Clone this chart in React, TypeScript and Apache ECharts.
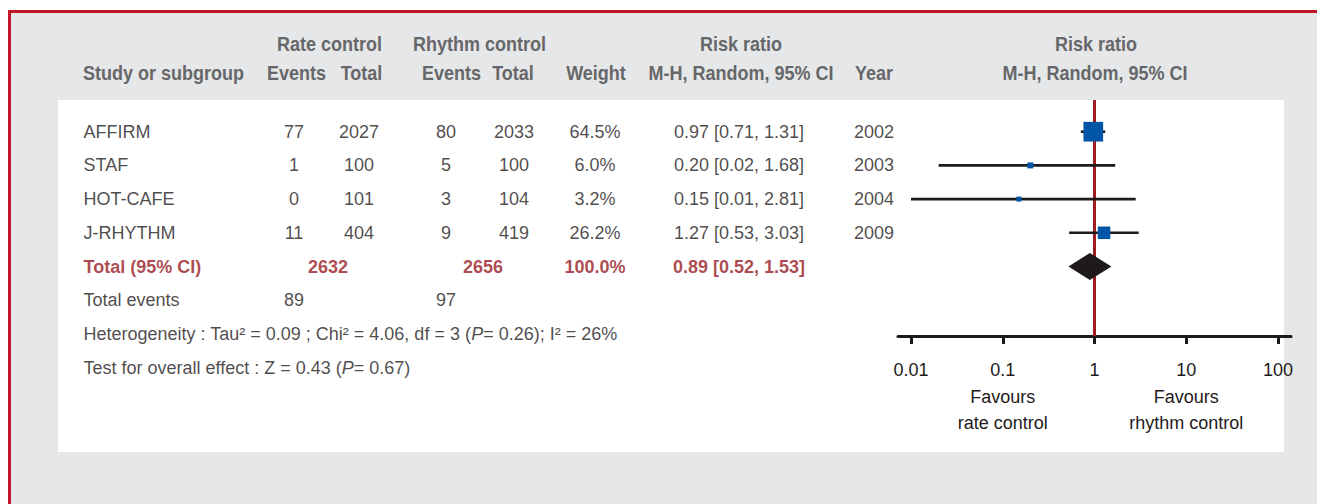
import React, { useEffect, useRef } from 'react';
import * as echarts from 'echarts';

// ---------------- DATA ----------------
const studies = ['AFFIRM', 'STAF', 'HOT-CAFE', 'J-RHYTHM'];
const rateEvents = [77, 1, 0, 11];
const rateTotals = [2027, 100, 101, 404];
const rhythmEvents = [80, 5, 3, 9];
const rhythmTotals = [2033, 100, 104, 419];
const weights = [64.5, 6.0, 3.2, 26.2];
const riskRatios = [0.97, 0.2, 0.15, 1.27];
const ciLower = [0.71, 0.02, 0.01, 0.53];
const ciUpper = [1.31, 1.68, 2.81, 3.03];
const years = [2002, 2003, 2004, 2009];

const totalLabel = 'Total (95% CI)';
const totalParticipants = [2632, 2656];
const totalWeight = 100.0;
const pooledRR = [0.89, 0.52, 1.53]; // estimate, lower, upper
const totalEventsLabel = 'Total events';
const totalEvents = [89, 97];
const heterogeneity = { tau2: '0.09', chi2: '4.06', df: '3', p: '0.26', i2: '26%' };
const overallEffect = { z: '0.43', p: '0.67' };

const tickValues = [0.01, 0.1, 1, 10, 100];
const tickLabels = ['0.01', '0.1', '1', '10', '100'];
const favoursLeft = ['Favours', 'rate control'];
const favoursRight = ['Favours', 'rhythm control'];

const headerLine1 = ['Rate control', 'Rhythm control', 'Risk ratio', 'Risk ratio'];
const headerLine2 = ['Study or subgroup', 'Events', 'Total', 'Events', 'Total', 'Weight', 'M-H, Random, 95% CI', 'Year', 'M-H, Random, 95% CI'];

// ---------------- LAYOUT / STYLE ----------------
const W = 1317;
const H = 504;
const FONT = '"Liberation Sans", Arial, Helvetica, sans-serif';
const DARK = '#1e1a1b';
const GREY_TXT = '#66676a';
const RED_TXT = '#971a1f';
const BLUE = '#0055a6';
const BG = '#e6e7e8';
const BORDER_RED = '#c1152a';
const LINE_RED = '#9d1c22';

const ROW0 = 131.7;
const STEP = 33.7;
const PANEL_TOP = 100;
const AXIS_Y = 336;
const Y_MIN = -(ROW0 - PANEL_TOP) / STEP;
const FOREST_Y_MAX = (AXIS_Y - ROW0) / STEP;
const TABLE_Y_MAX = 7.5;

const DECADE = 91.75;
const FOREST_LEFT = 898;
const FOREST_RIGHT = 1291;
const LOG_MIN = Math.pow(10, -2 - (911 - FOREST_LEFT) / DECADE);
const LOG_MAX = Math.pow(10, 2 + (FOREST_RIGHT - 1278) / DECADE);

const COL = {
  study: 83,
  rateEv: 294,
  rateTot: 359,
  rateSum: 328,
  rhyEv: 446,
  rhyTot: 514,
  rhySum: 483,
  weight: 595,
  rr: 739,
  year: 874,
};

const H1_X = [329.5, 479.5, 741, 1096];
const H2_X = [83, 296.5, 361.5, 451.5, 513, 596, 741, 874, 1095];
const H1_Y = 44;
const H2_Y = 73.5;

const fmt2 = (v: number) => v.toFixed(2);
const rrText = (e: number, l: number, u: number) => `${fmt2(e)} [${fmt2(l)}, ${fmt2(u)}]`;

type Cell = { row: number; text: string };

function textSeries(
  id: string,
  x: number,
  cells: Cell[],
  align: 'left' | 'center',
  opts: { bold?: boolean; color?: string; rich?: any } = {}
): any {
  return {
    id,
    type: 'scatter',
    xAxisIndex: 1,
    yAxisIndex: 1,
    symbol: 'circle',
    symbolSize: 1,
    silent: true,
    clip: false,
    itemStyle: { color: 'rgba(0,0,0,0)' },
    data: cells.map((c) => ({ name: c.text, value: [x, c.row] })),
    label: {
      show: true,
      position: align === 'left' ? 'right' : 'inside',
      distance: 0,
      formatter: '{b}',
      color: opts.color || DARK,
      fontSize: 18,
      fontFamily: FONT,
      fontWeight: opts.bold ? 'bold' : 'normal',
      rich: opts.rich,
    },
    z: 5,
  };
}

function buildOption(): any {
  const TOTAL_ROW = studies.length;
  const EVENTS_ROW = TOTAL_ROW + 1;
  const HET_ROW = TOTAL_ROW + 2;
  const TEST_ROW = TOTAL_ROW + 3;

  const richStyles = {
    n: { fontSize: 18, fontFamily: FONT, color: DARK },
    i: { fontSize: 18, fontFamily: FONT, color: DARK, fontStyle: 'italic' },
  };
  const hetText = `{n|Heterogeneity : Tau² = ${heterogeneity.tau2} ; Chi² = ${heterogeneity.chi2}, df = ${heterogeneity.df} (}{i|P}{n|= ${heterogeneity.p}); I² = ${heterogeneity.i2}}`;
  const testText = `{n|Test for overall effect : Z = ${overallEffect.z} (}{i|P}{n|= ${overallEffect.p})}`;

  const tableSeries = [
    textSeries('study', COL.study, [
      ...studies.map((s, i) => ({ row: i, text: s })),
      { row: EVENTS_ROW, text: totalEventsLabel },
    ], 'left'),
    textSeries('studyTotal', COL.study, [{ row: TOTAL_ROW, text: totalLabel }], 'left', { bold: true, color: RED_TXT }),
    textSeries('rateEv', COL.rateEv, [
      ...rateEvents.map((v, i) => ({ row: i, text: String(v) })),
      { row: EVENTS_ROW, text: String(totalEvents[0]) },
    ], 'center'),
    textSeries('rateTot', COL.rateTot, rateTotals.map((v, i) => ({ row: i, text: String(v) })), 'center'),
    textSeries('rateSum', COL.rateSum, [{ row: TOTAL_ROW, text: String(totalParticipants[0]) }], 'center', { bold: true, color: RED_TXT }),
    textSeries('rhyEv', COL.rhyEv, [
      ...rhythmEvents.map((v, i) => ({ row: i, text: String(v) })),
      { row: EVENTS_ROW, text: String(totalEvents[1]) },
    ], 'center'),
    textSeries('rhyTot', COL.rhyTot, rhythmTotals.map((v, i) => ({ row: i, text: String(v) })), 'center'),
    textSeries('rhySum', COL.rhySum, [{ row: TOTAL_ROW, text: String(totalParticipants[1]) }], 'center', { bold: true, color: RED_TXT }),
    textSeries('weight', COL.weight, weights.map((v, i) => ({ row: i, text: v.toFixed(1) + '%' })), 'center'),
    textSeries('weightSum', COL.weight, [{ row: TOTAL_ROW, text: totalWeight.toFixed(1) + '%' }], 'center', { bold: true, color: RED_TXT }),
    textSeries('rr', COL.rr, riskRatios.map((v, i) => ({ row: i, text: rrText(v, ciLower[i], ciUpper[i]) })), 'center'),
    textSeries('rrSum', COL.rr, [{ row: TOTAL_ROW, text: rrText(pooledRR[0], pooledRR[1], pooledRR[2]) }], 'center', { bold: true, color: RED_TXT }),
    textSeries('year', COL.year, years.map((v, i) => ({ row: i, text: String(v) })), 'center'),
    textSeries('het', COL.study, [{ row: HET_ROW, text: hetText }], 'left', { rich: richStyles }),
    textSeries('test', COL.study, [{ row: TEST_ROW, text: testText }], 'left', { rich: richStyles }),
  ];

  const forestSeries = [
    {
      id: 'ci',
      type: 'custom',
      xAxisIndex: 0,
      yAxisIndex: 0,
      silent: true,
      clip: false,
      encode: { x: [0, 1], y: 2 },
      data: studies.map((_, i) => [ciLower[i], ciUpper[i], i]),
      renderItem: (params: any, api: any) => {
        const p1 = api.coord([api.value(0), api.value(2)]);
        const p2 = api.coord([api.value(1), api.value(2)]);
        return {
          type: 'line',
          shape: { x1: p1[0], y1: p1[1], x2: p2[0], y2: p2[1] },
          style: { stroke: DARK, lineWidth: 2.6 },
        };
      },
      z: 3,
    },
    {
      id: 'squares',
      type: 'scatter',
      xAxisIndex: 0,
      yAxisIndex: 0,
      silent: true,
      symbol: 'rect',
      symbolSize: (val: number[]) => Math.max(5, 2.45 * Math.sqrt(val[2])),
      itemStyle: { color: BLUE, opacity: 1 },
      data: studies.map((_, i) => [riskRatios[i], i, weights[i]]),
      z: 4,
      markLine: {
        silent: true,
        symbol: ['none', 'none'],
        label: { show: false },
        lineStyle: { color: LINE_RED, width: 3, type: 'solid' },
        data: [{ xAxis: 1 }],
        z: 2,
      },
    },
    {
      id: 'diamond',
      type: 'custom',
      xAxisIndex: 0,
      yAxisIndex: 0,
      silent: true,
      clip: false,
      encode: { x: [0, 1, 2], y: 3 },
      data: [[pooledRR[0], pooledRR[1], pooledRR[2], TOTAL_ROW]],
      renderItem: (params: any, api: any) => {
        const row = api.value(3);
        const c = api.coord([api.value(0), row]);
        const l = api.coord([api.value(1), row]);
        const r = api.coord([api.value(2), row]);
        const half = 13.5;
        return {
          type: 'polygon',
          shape: { points: [[l[0], c[1]], [c[0], c[1] - half], [r[0], c[1]], [c[0], c[1] + half]] },
          style: { fill: DARK },
        };
      },
      z: 5,
    },
  ];

  const labelFor = (v: number) => {
    const idx = tickValues.findIndex((t) => Math.abs(Math.log10(t) - Math.log10(v)) < 1e-6);
    if (idx < 0) return '';
    let s = tickLabels[idx];
    if (tickValues[idx] === 0.1) s += '\n' + favoursLeft.join('\n');
    if (tickValues[idx] === 10) s += '\n' + favoursRight.join('\n');
    return s;
  };

  const graphic: any[] = [
    { type: 'rect', z: -10, silent: true, shape: { x: 11, y: 13, width: W - 11, height: H - 13 }, style: { fill: BG } },
    { type: 'rect', z: -9, silent: true, shape: { x: 8, y: 10, width: W - 8, height: 3 }, style: { fill: BORDER_RED } },
    { type: 'rect', z: -9, silent: true, shape: { x: 8, y: 10, width: 3, height: H - 10 }, style: { fill: BORDER_RED } },
    { type: 'rect', z: -8, silent: true, shape: { x: 58, y: PANEL_TOP, width: 1226, height: 352 }, style: { fill: '#ffffff' } },
  ];
  headerLine1.forEach((t, i) => {
    graphic.push({
      type: 'text', z: 10, silent: true, x: H1_X[i], y: H1_Y, scaleX: 0.9,
      style: { text: t, fill: GREY_TXT, font: `bold 20px ${FONT}`, align: 'center', verticalAlign: 'middle' },
    });
  });
  headerLine2.forEach((t, i) => {
    graphic.push({
      type: 'text', z: 10, silent: true, x: H2_X[i], y: H2_Y, scaleX: 0.9,
      style: { text: t, fill: GREY_TXT, font: `bold 20px ${FONT}`, align: i === 0 ? 'left' : 'center', verticalAlign: 'middle' },
    });
  });

  return {
    animation: false,
    backgroundColor: '#ffffff',
    textStyle: { fontFamily: FONT },
    grid: [
      { left: FOREST_LEFT, width: FOREST_RIGHT - FOREST_LEFT, top: PANEL_TOP, height: AXIS_Y - PANEL_TOP, containLabel: false },
      { left: 0, width: W, top: PANEL_TOP, height: (TABLE_Y_MAX - Y_MIN) * STEP, containLabel: false },
    ],
    xAxis: [
      {
        type: 'log',
        logBase: 10,
        gridIndex: 0,
        min: LOG_MIN,
        max: LOG_MAX,
        position: 'bottom',
        axisLine: { show: true, onZero: false, lineStyle: { color: DARK, width: 3 } },
        axisTick: { show: true, inside: false, length: 8, lineStyle: { color: DARK, width: 3 }, customValues: tickValues },
        axisLabel: {
          show: true,
          customValues: tickValues,
          margin: 21,
          color: DARK,
          fontSize: 18,
          fontFamily: FONT,
          lineHeight: 26.5,
          formatter: (v: number) => labelFor(v),
        },
        splitLine: { show: false },
      },
      { type: 'value', gridIndex: 1, min: 0, max: W, show: false },
    ],
    yAxis: [
      { type: 'value', gridIndex: 0, inverse: true, min: Y_MIN, max: FOREST_Y_MAX, show: false },
      { type: 'value', gridIndex: 1, inverse: true, min: Y_MIN, max: TABLE_Y_MAX, show: false },
    ],
    graphic,
    series: [...forestSeries, ...tableSeries],
  };
}

export default function App() {
  const ref = useRef<HTMLDivElement>(null);
  useEffect(() => {
    if (!ref.current) return;
    const chart = echarts.init(ref.current, null, { renderer: 'svg', width: W, height: H });
    chart.setOption(buildOption());
    return () => chart.dispose();
  }, []);
  return <div ref={ref} style={{ position: 'absolute', left: 0, top: 0, width: W, height: H }} />;
}
